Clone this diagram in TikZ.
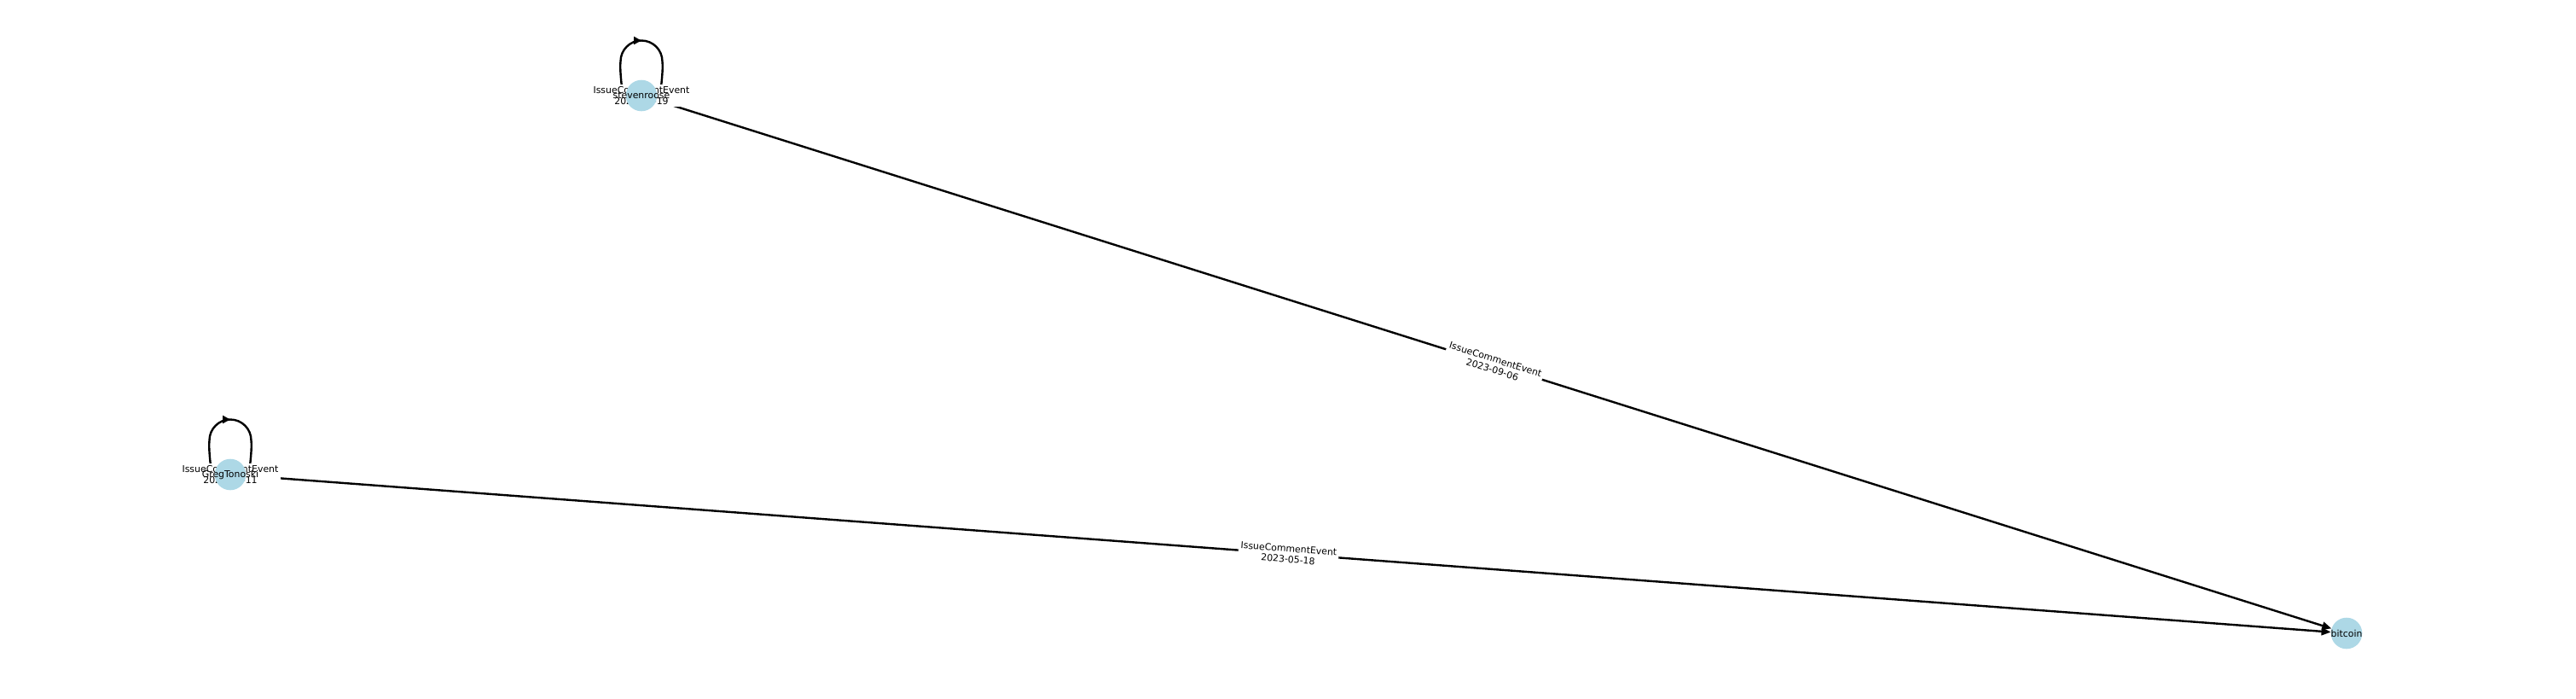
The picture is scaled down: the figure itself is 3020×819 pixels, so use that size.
\documentclass[tikz,border=0pt]{standalone}
\usepackage{fontspec}
\setmainfont{DejaVu Sans}
\usetikzlibrary{arrows.meta,calc,decorations.markings}
\pgfdeclarelayer{background}
\pgfsetlayers{background,main}
\definecolor{nodeblue}{RGB}{173,216,230}
\tikzset{
  user/.style     = {circle, fill=nodeblue, minimum size=36.6pt, inner sep=0pt},
  usertext/.style = {font=\fontsize{10.9}{12.5}\selectfont, inner sep=0pt},
  link/.style     = {line width=2.4pt, -{Triangle[length=11pt,width=9pt]}},
  loopline/.style = {line width=2.4pt, postaction={decorate},
                     decoration={markings, mark=at position 0.5 with
                       {\arrow{Triangle[length=9pt,width=9pt]}}}},
  evlabel/.style  = {fill=white, align=center, inner sep=2.5pt,
                     font=\fontsize{10.9}{12.5}\selectfont},
}

\begin{document}
\begin{tikzpicture}[x=1pt,y=-1pt]
  \useasboundingbox (0,0) rectangle (3020,819);
  % nodes
  \node[user] (steven) at (752,112) {};
  \node[user] (greg)   at (270,556) {};
  \node[user] (btc)    at (2751,742) {};
  \node[usertext] (steven-lab) at (steven) {stevenroose};
  \node[usertext] (greg-lab)   at (greg)   {GregTonoski};
  \node[usertext] (btc-lab)    at (btc)    {bitcoin};
  % edges and their labels under the nodes
  \begin{pgfonlayer}{background}
    \draw[link] (steven) -- (btc)
      node[evlabel, sloped, midway] (lab-sb) {IssueCommentEvent\\2023-09-06};
    \draw[link] (greg) -- (btc)
      node[evlabel, sloped, midway] (lab-gb) {IssueCommentEvent\\2023-05-18};
    \foreach \u in {steven,greg}{
      \draw[loopline] ($(\u)+(-23,-10)$) .. controls ($(\u)+(-25,-28)$) and ($(\u)+(-25,-36)$)
        .. ($(\u)+(-24.5,-40)$) .. controls ($(\u)+(-24.5,-53.5)$) and ($(\u)+(-13.5,-64.5)$)
        .. ($(\u)+(0,-64.5)$) .. controls ($(\u)+(13.5,-64.5)$) and ($(\u)+(24.5,-53.5)$)
        .. ($(\u)+(24.5,-40)$) .. controls ($(\u)+(25,-36)$) and ($(\u)+(25,-28)$) .. ($(\u)+(23,-10)$);}
    \node[evlabel] (lab-ss) at (steven) {IssueCommentEvent\\2023-09-19};
    \node[evlabel] (lab-gg) at (greg)   {IssueCommentEvent\\2023-05-11};
  \end{pgfonlayer}
\end{tikzpicture}
\end{document}
